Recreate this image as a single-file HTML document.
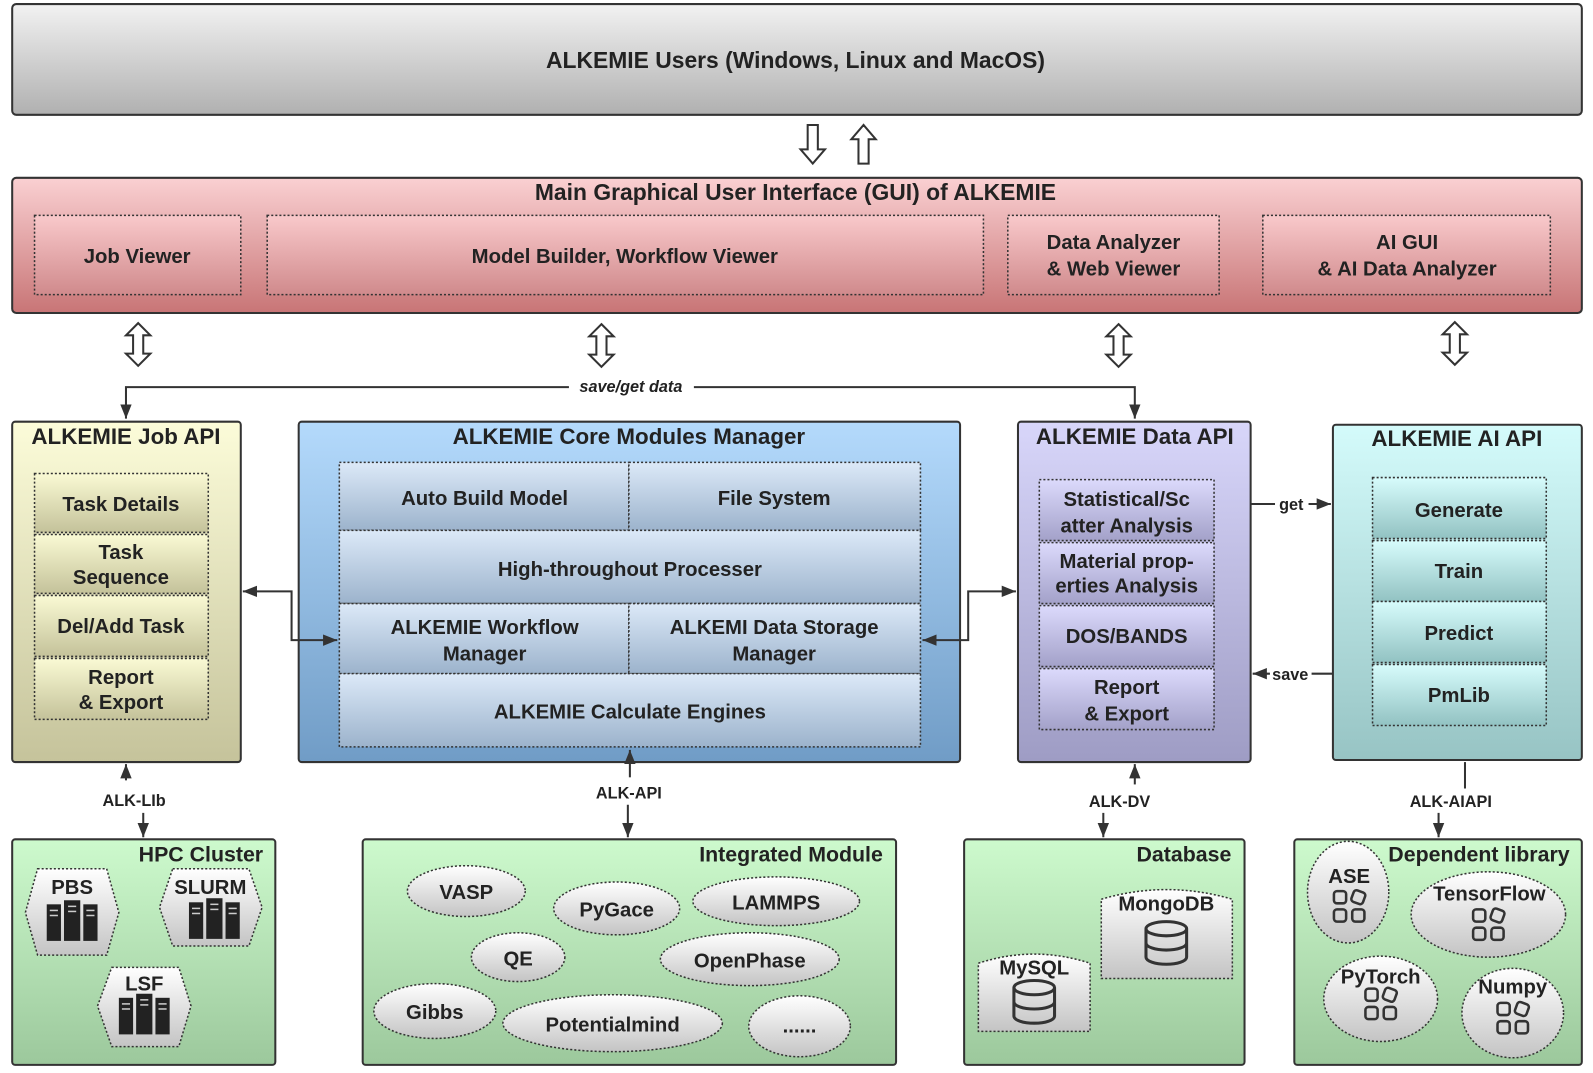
<!DOCTYPE html>
<html><head><meta charset="utf-8"><style>
html,body{margin:0;padding:0;background:#fff;}
svg{display:block;}
text{font-family:"Liberation Sans",sans-serif;font-weight:bold;fill:#222;}
</style></head><body>
<svg width="1593" height="1073" viewBox="0 0 1568 1056" preserveAspectRatio="none" xmlns="http://www.w3.org/2000/svg">
<defs>
<linearGradient id="gGray" x1="0" y1="0" x2="0" y2="1"><stop offset="0" stop-color="#f2f2f2"/><stop offset="1" stop-color="#b0b0b0"/></linearGradient>
<linearGradient id="gPink" x1="0" y1="0" x2="0" y2="1"><stop offset="0" stop-color="#fad0d2"/><stop offset="1" stop-color="#c87576"/></linearGradient>
<linearGradient id="gPinkI" x1="0" y1="0" x2="0" y2="1"><stop offset="0" stop-color="#f9c9cb"/><stop offset="1" stop-color="#d08a8c"/></linearGradient>
<linearGradient id="gYel" x1="0" y1="0" x2="0" y2="1"><stop offset="0" stop-color="#fcfcd9"/><stop offset="1" stop-color="#c5c39b"/></linearGradient>
<linearGradient id="gYelI" x1="0" y1="0" x2="0" y2="1"><stop offset="0" stop-color="#fafad4"/><stop offset="1" stop-color="#c4c29a"/></linearGradient>
<linearGradient id="gBlue" x1="0" y1="0" x2="0" y2="1"><stop offset="0" stop-color="#b4dafc"/><stop offset="1" stop-color="#709cc6"/></linearGradient>
<linearGradient id="gBlueI" x1="0" y1="0" x2="0" y2="1"><stop offset="0" stop-color="#dce9f8"/><stop offset="1" stop-color="#9cb3cc"/></linearGradient>
<linearGradient id="gLav" x1="0" y1="0" x2="0" y2="1"><stop offset="0" stop-color="#d8d6fa"/><stop offset="1" stop-color="#9e9cc4"/></linearGradient>
<linearGradient id="gLavI" x1="0" y1="0" x2="0" y2="1"><stop offset="0" stop-color="#dcdafc"/><stop offset="1" stop-color="#a3a1c9"/></linearGradient>
<linearGradient id="gCyan" x1="0" y1="0" x2="0" y2="1"><stop offset="0" stop-color="#d4fbfb"/><stop offset="1" stop-color="#97c4c4"/></linearGradient>
<linearGradient id="gCyanI" x1="0" y1="0" x2="0" y2="1"><stop offset="0" stop-color="#d7fcfc"/><stop offset="1" stop-color="#92c2c2"/></linearGradient>
<linearGradient id="gGreen" x1="0" y1="0" x2="0" y2="1"><stop offset="0" stop-color="#cdfacd"/><stop offset="1" stop-color="#9cc89c"/></linearGradient>
<linearGradient id="gW" x1="0" y1="0" x2="0" y2="1"><stop offset="0" stop-color="#ffffff"/><stop offset="1" stop-color="#c4c4c4"/></linearGradient>
<marker id="ah" viewBox="0 0 10 10" refX="10" refY="5" markerWidth="7" markerHeight="7" orient="auto-start-reverse"><path d="M0,1 L10,5 L0,9 z" fill="#333"/></marker>
<g id="dbl"><polygon points="0,-21 12,-9 5,-9 5,9 12,9 0,21 -12,9 -5,9 -5,-9 -12,-9" fill="#fff" stroke="#333" stroke-width="2"/></g>
<g id="srv" fill="#222"><rect x="-25" y="-18" width="14" height="36"/><rect x="-8" y="-22" width="16" height="40"/><rect x="11" y="-18" width="14" height="36"/>
<g stroke="#ccc" stroke-width="1.5"><line x1="-22" y1="-12" x2="-14" y2="-12"/><line x1="-22" y1="-7" x2="-14" y2="-7"/><line x1="-4" y1="-16" x2="4" y2="-16"/><line x1="-4" y1="-11" x2="4" y2="-11"/><line x1="14" y1="-12" x2="22" y2="-12"/><line x1="14" y1="-7" x2="22" y2="-7"/></g></g>
<g id="app" fill="none" stroke="#333" stroke-width="2.5"><rect x="-15" y="-15" width="12" height="12" rx="3"/><rect x="3" y="3" width="12" height="12" rx="3"/><rect x="-15" y="3" width="12" height="12" rx="3"/><rect x="3" y="-15" width="12" height="12" rx="3" transform="rotate(20 9 -9)"/></g>
<g id="db" fill="none" stroke="#333" stroke-width="3"><ellipse cx="0" cy="-14" rx="20" ry="7"/><path d="M-20,-14 V14 A20,7 0 0 0 20,14 V-14 M-20,0 A20,7 0 0 0 20,0"/></g>
</defs>

<rect x="12" y="4" width="1545" height="109" rx="4" fill="url(#gGray)" stroke="#333" stroke-width="2"/>
<text x="783" y="67" font-size="22.5" text-anchor="middle">ALKEMIE Users (Windows, Linux and MacOS)</text>
<polygon points="795,123 805,123 805,147 812,147 800,161 788,147 795,147" fill="#fff" stroke="#333" stroke-width="2"/>
<polygon points="845,161 855,161 855,137 862,137 850,123 838,137 845,137" fill="#fff" stroke="#333" stroke-width="2"/>

<rect x="12" y="175" width="1545" height="133" rx="4" fill="url(#gPink)" stroke="#333" stroke-width="2"/>
<text x="783" y="197" font-size="22.5" text-anchor="middle">Main Graphical User Interface (GUI) of ALKEMIE</text>
<g fill="url(#gPinkI)" stroke="#333" stroke-width="1.5" stroke-dasharray="2,2">
<rect x="34" y="212" width="203" height="78"/><rect x="263" y="212" width="705" height="78"/><rect x="992" y="212" width="208" height="78"/><rect x="1243" y="212" width="283" height="78"/></g>
<g font-size="20" text-anchor="middle">
<text x="135" y="259">Job Viewer</text><text x="615" y="259">Model Builder, Workflow Viewer</text>
<text x="1096" y="245">Data Analyzer</text><text x="1096" y="271">&amp; Web Viewer</text>
<text x="1385" y="245">AI GUI</text><text x="1385" y="271">&amp; AI Data Analyzer</text></g>
<use href="#dbl" x="136" y="339"/><use href="#dbl" x="592" y="340"/><use href="#dbl" x="1101" y="340"/><use href="#dbl" x="1432" y="338"/>

<path d="M124,412 V381 H560 M683,381 H1117 V412" fill="none" stroke="#333" stroke-width="2" marker-start="url(#ah)" marker-end="url(#ah)"/>
<text x="621" y="386" font-size="16" font-style="italic" text-anchor="middle">save/get data</text>

<rect x="12" y="415" width="225" height="335" rx="3" fill="url(#gYel)" stroke="#333" stroke-width="2"/>
<text x="124" y="437" font-size="22" text-anchor="middle">ALKEMIE Job API</text>
<g fill="url(#gYelI)" stroke="#333" stroke-width="1.5" stroke-dasharray="2,2">
<rect x="34" y="466" width="171" height="58"/><rect x="34" y="526" width="171" height="58"/><rect x="34" y="586" width="171" height="60"/><rect x="34" y="648" width="171" height="60"/></g>
<g font-size="20" text-anchor="middle"><text x="119" y="503">Task Details</text><text x="119" y="550">Task</text><text x="119" y="575">Sequence</text><text x="119" y="623">Del/Add Task</text><text x="119" y="673">Report</text><text x="119" y="698">&amp; Export</text></g>

<rect x="294" y="415" width="651" height="335" rx="3" fill="url(#gBlue)" stroke="#333" stroke-width="2"/>
<text x="619" y="437" font-size="22" text-anchor="middle">ALKEMIE Core Modules Manager</text>
<g fill="url(#gBlueI)" stroke="#333" stroke-width="1.5" stroke-dasharray="2,2">
<rect x="334" y="455" width="285" height="67"/><rect x="619" y="455" width="287" height="67"/>
<rect x="334" y="522" width="572" height="72"/>
<rect x="334" y="594" width="285" height="69"/><rect x="619" y="594" width="287" height="69"/>
<rect x="334" y="663" width="572" height="72"/></g>
<g font-size="20" text-anchor="middle"><text x="477" y="497">Auto Build Model</text><text x="762" y="497">File System</text>
<text x="620" y="567">High-throughout Processer</text>
<text x="477" y="624">ALKEMIE Workflow</text><text x="477" y="650">Manager</text>
<text x="762" y="624">ALKEMI Data Storage</text><text x="762" y="650">Manager</text>
<text x="620" y="707">ALKEMIE Calculate Engines</text></g>

<rect x="1002" y="415" width="229" height="335" rx="3" fill="url(#gLav)" stroke="#333" stroke-width="2"/>
<text x="1117" y="437" font-size="22" text-anchor="middle">ALKEMIE Data API</text>
<g fill="url(#gLavI)" stroke="#333" stroke-width="1.5" stroke-dasharray="2,2">
<rect x="1023" y="472" width="172" height="60"/><rect x="1023" y="534" width="172" height="60"/><rect x="1023" y="596" width="172" height="60"/><rect x="1023" y="658" width="172" height="60"/></g>
<g font-size="20" text-anchor="middle"><text x="1109" y="498">Statistical/Sc</text><text x="1109" y="524">atter Analysis</text>
<text x="1109" y="559">Material prop-</text><text x="1109" y="583">erties Analysis</text>
<text x="1109" y="633">DOS/BANDS</text><text x="1109" y="683">Report</text><text x="1109" y="709">&amp; Export</text></g>

<rect x="1312" y="418" width="245" height="330" rx="3" fill="url(#gCyan)" stroke="#333" stroke-width="2"/>
<text x="1434" y="439" font-size="22" text-anchor="middle">ALKEMIE AI API</text>
<g fill="url(#gCyanI)" stroke="#333" stroke-width="1.5" stroke-dasharray="2,2">
<rect x="1351" y="470" width="171" height="60"/><rect x="1351" y="532" width="171" height="60"/><rect x="1351" y="592" width="171" height="60"/><rect x="1351" y="654" width="171" height="60"/></g>
<g font-size="20" text-anchor="middle"><text x="1436" y="509">Generate</text><text x="1436" y="569">Train</text><text x="1436" y="630">Predict</text><text x="1436" y="691">PmLib</text></g>

<g fill="none" stroke="#333" stroke-width="2">
<path d="M239,582 H287 V630 H332" marker-start="url(#ah)" marker-end="url(#ah)"/>
<path d="M908,630 H953 V582 H1000" marker-start="url(#ah)" marker-end="url(#ah)"/>
<path d="M1231,496 H1255 M1288,496 H1310" marker-end="url(#ah)"/>
<path d="M1233,663 H1250 M1291,663 H1312" marker-start="url(#ah)"/>
</g>
<text x="1271" y="502" font-size="16" text-anchor="middle">get</text>
<text x="1270" y="669" font-size="16" text-anchor="middle">save</text>

<g fill="none" stroke="#333" stroke-width="2">
<path d="M124,768 V752" marker-end="url(#ah)"/><path d="M141,800 V824" marker-end="url(#ah)"/>
<path d="M620,765 V738" marker-end="url(#ah)"/><path d="M618,792 V824" marker-end="url(#ah)"/>
<path d="M1117,772 V752" marker-end="url(#ah)"/><path d="M1086,800 V824" marker-end="url(#ah)"/>
<path d="M1442,750 V776"/><path d="M1416,800 V824" marker-end="url(#ah)"/>
</g>
<g font-size="16" text-anchor="middle"><text x="132" y="793">ALK-LIb</text><text x="619" y="786">ALK-API</text><text x="1102" y="794">ALK-DV</text><text x="1428" y="794">ALK-AIAPI</text></g>

<g fill="url(#gGreen)" stroke="#333" stroke-width="2">
<rect x="12" y="826" width="259" height="222" rx="3"/><rect x="357" y="826" width="525" height="222" rx="3"/>
<rect x="949" y="826" width="276" height="222" rx="3"/><rect x="1274" y="826" width="283" height="222" rx="3"/></g>
<g font-size="21" text-anchor="end"><text x="259" y="848">HPC Cluster</text><text x="869" y="848">Integrated Module</text><text x="1212" y="848">Database</text><text x="1545" y="848">Dependent library</text></g>

<g fill="url(#gW)" stroke="#333" stroke-width="1.5" stroke-dasharray="2,2">
<polygon points="37,855 105,855 117,898 105,940 37,940 25,898"/>
<polygon points="170,855 245,855 258,893 245,931 170,931 157,893"/>
<polygon points="110,952 176,952 188,990 176,1030 110,1030 96,990"/></g>
<g font-size="20" text-anchor="middle"><text x="71" y="880">PBS</text><text x="207" y="880">SLURM</text><text x="142" y="975">LSF</text></g>
<use href="#srv" x="71" y="908"/><use href="#srv" x="211" y="906"/><use href="#srv" x="142" y="1000"/>

<g fill="url(#gW)" stroke="#333" stroke-width="1.5" stroke-dasharray="2,2">
<ellipse cx="459" cy="877" rx="58" ry="25"/><ellipse cx="607" cy="894" rx="62" ry="26"/><ellipse cx="764" cy="887" rx="82" ry="24"/>
<ellipse cx="510" cy="942" rx="46" ry="24"/><ellipse cx="738" cy="944" rx="88" ry="26"/>
<ellipse cx="428" cy="995" rx="60" ry="27"/><ellipse cx="603" cy="1007" rx="108" ry="28"/><ellipse cx="787" cy="1010" rx="50" ry="30"/></g>
<g font-size="20" text-anchor="middle"><text x="459" y="885">VASP</text><text x="607" y="902">PyGace</text><text x="764" y="895">LAMMPS</text>
<text x="510" y="950">QE</text><text x="738" y="952">OpenPhase</text><text x="428" y="1003">Gibbs</text><text x="603" y="1015">Potentialmind</text><text x="787" y="1016">......</text></g>

<g fill="url(#gW)" stroke="#333" stroke-width="1.5" stroke-dasharray="2,2">
<path d="M1084,885 Q1148,866 1213,885 V963 H1084 Z"/><path d="M963,948 Q1018,930 1073,948 V1015 H963 Z"/></g>
<g font-size="20" text-anchor="middle"><text x="1148" y="896">MongoDB</text><text x="1018" y="959">MySQL</text></g>
<use href="#db" x="1148" y="928"/><use href="#db" x="1018" y="986"/>

<g fill="url(#gW)" stroke="#333" stroke-width="1.5" stroke-dasharray="2,2">
<ellipse cx="1327" cy="878" rx="40" ry="50"/><ellipse cx="1465" cy="900" rx="76" ry="42"/>
<ellipse cx="1359" cy="983" rx="56" ry="42"/><ellipse cx="1489" cy="997" rx="50" ry="44"/></g>
<g font-size="20" text-anchor="middle"><text x="1328" y="869">ASE</text><text x="1466" y="886">TensorFlow</text><text x="1359" y="968">PyTorch</text><text x="1489" y="978">Numpy</text></g>
<use href="#app" x="1328" y="892"/><use href="#app" x="1465" y="910"/><use href="#app" x="1359" y="988"/><use href="#app" x="1489" y="1002"/>
</svg>
</body></html>
